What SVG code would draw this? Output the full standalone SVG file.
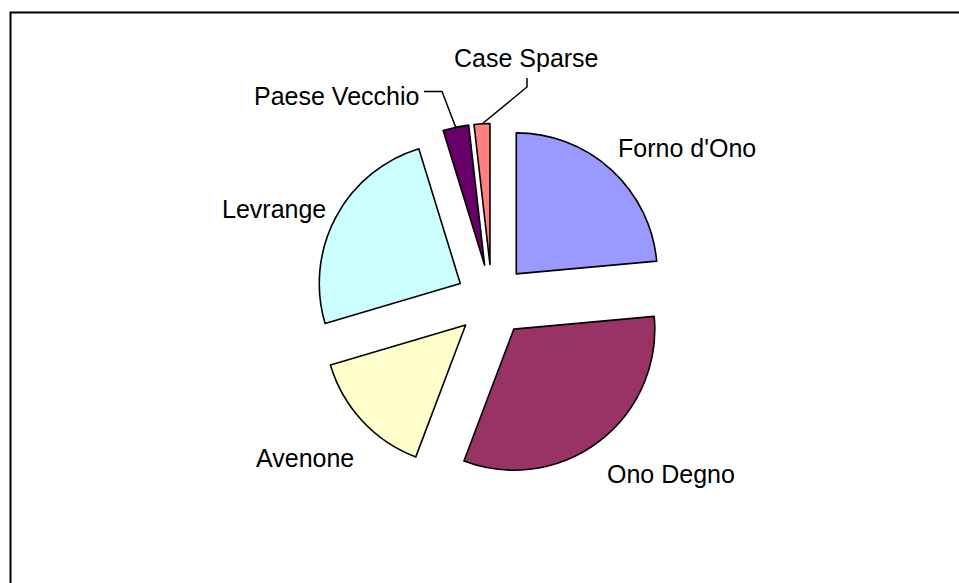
<svg xmlns="http://www.w3.org/2000/svg" width="959" height="583" viewBox="0 0 959 583">
<style>
.slice{stroke:#000;stroke-width:1.6;stroke-linejoin:round}
.lbl{font-family:"Liberation Sans",Arial,sans-serif;font-size:25px;fill:#000}
.leader{fill:none;stroke:#000;stroke-width:1.5}
</style>
<rect x="0" y="0" width="959" height="583" fill="#fff"/>
<rect x="10.5" y="12.5" width="1000" height="1000" fill="#fff" stroke="#000" stroke-width="2"/>
<g id="forno-dono">
<path class="slice" fill="#9999FF" d="M516.27,273.91 L516.27,132.91 A141,141 0 0 1 656.69,261.13 Z"/>
<text class="lbl" x="618" y="157">Forno d'Ono</text>
</g>
<g id="ono-degno">
<path class="slice" fill="#993366" d="M513.79,329.16 L654.21,316.38 A141,141 0 0 1 463.95,461.05 Z"/>
<text class="lbl" x="607" y="482.5">Ono Degno</text>
</g>
<g id="avenone">
<path class="slice" fill="#FFFFCC" d="M465.63,325.01 L415.79,456.90 A141,141 0 0 1 330.44,365.05 Z"/>
<text class="lbl" x="256" y="466.7">Avenone</text>
</g>
<g id="levrange">
<path class="slice" fill="#CCFFFF" d="M460.27,283.49 L325.08,323.53 A141,141 0 0 1 418.82,148.72 Z"/>
<text class="lbl" x="222" y="218.3">Levrange</text>
</g>
<g id="paese-vecchio">
<path class="slice" fill="#660066" d="M484.64,265.26 L443.19,130.49 A141,141 0 0 1 468.68,125.16 Z"/>
<text class="lbl" x="254" y="105">Paese Vecchio</text>
</g>
<g id="case-sparse">
<path class="slice" fill="#FF8080" d="M489.96,264.56 L474.0,124.46 A141,141 0 0 1 489.96,123.56 Z"/>
<text class="lbl" x="454" y="67">Case Sparse</text>
</g>
<g id="connectors">
<polyline class="leader" points="424,91.5 442,91.5 456,128"/>
<polyline class="leader" points="482,124 527,87 527,78"/>
</g>
</svg>
